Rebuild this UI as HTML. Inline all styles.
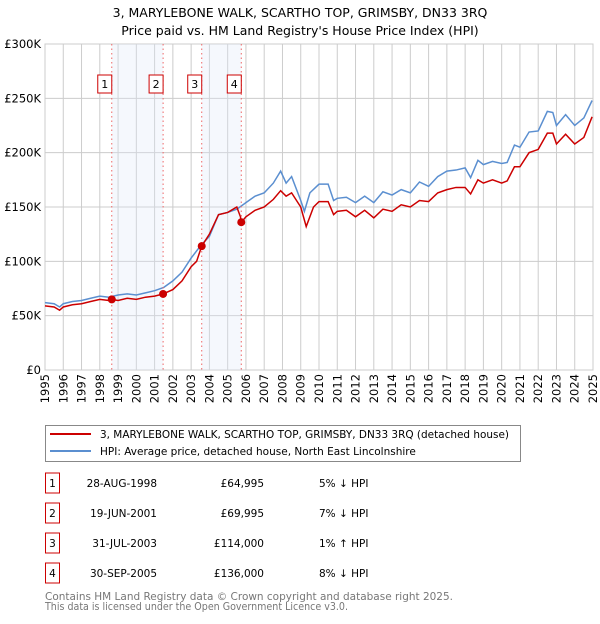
<!DOCTYPE html>
<html><head><meta charset="utf-8"><style>
body{margin:0;background:#fff;font-family:"DejaVu Sans","Liberation Sans",sans-serif;}
svg text{font-family:"DejaVu Sans","Liberation Sans",sans-serif;}
</style></head><body>
<svg id="chart" width="600" height="620" xmlns="http://www.w3.org/2000/svg">
<text x="300" y="17" text-anchor="middle" font-size="12.5">3, MARYLEBONE WALK, SCARTHO TOP, GRIMSBY, DN33 3RQ</text>
<text x="300" y="35" text-anchor="middle" font-size="12.5">Price paid vs. HM Land Registry's House Price Index (HPI)</text>
<g id="grid"></g>
<g id="shade"></g>
<g id="axes"></g>
<g id="series"></g>
<g id="markers"></g>
<rect x="45.5" y="425.5" width="475" height="36" fill="#fff" stroke="#888"/>
<line x1="50" y1="434" x2="91" y2="434" stroke="#cc0000" stroke-width="2"/>
<text x="100" y="438" font-size="10.5" textLength="409" lengthAdjust="spacingAndGlyphs">3, MARYLEBONE WALK, SCARTHO TOP, GRIMSBY, DN33 3RQ (detached house)</text>
<line x1="50" y1="451" x2="91" y2="451" stroke="#5b8fd0" stroke-width="2"/>
<text x="100" y="455" font-size="10.5">HPI: Average price, detached house, North East Lincolnshire</text>
<g id="table"></g>
<text x="45" y="600" font-size="10.5" fill="#777" textLength="408" lengthAdjust="spacingAndGlyphs">Contains HM Land Registry data © Crown copyright and database right 2025.</text>
<text x="45" y="610" font-size="10.5" fill="#777" textLength="303" lengthAdjust="spacingAndGlyphs">This data is licensed under the Open Government Licence v3.0.</text>
</svg>
<script>
const hpiYears=[1995,1995.5,1995.8,1996,1996.5,1997,1997.5,1998,1998.5,1999,1999.5,2000,2000.5,2001,2001.5,2002,2002.5,2003,2003.5,2004,2004.5,2005,2005.5,2006,2006.5,2007,2007.5,2007.9,2008.2,2008.5,2009,2009.2,2009.5,2010,2010.5,2010.8,2011,2011.5,2012,2012.5,2013,2013.5,2014,2014.5,2015,2015.5,2016,2016.5,2017,2017.5,2018,2018.3,2018.7,2019,2019.5,2020,2020.3,2020.7,2021,2021.5,2022,2022.5,2022.8,2023,2023.5,2024,2024.5,2024.95];
const hpiValues=[62,61,58,61,63,64,66,68,67,69,70,69,71,73,76,82,90,103,114,123,143,145,148,154,160,163,172,183,172,178,156,146,163,171,171,156,158,159,154,160,154,164,161,166,163,173,169,178,183,184,186,177,193,189,192,190,191,207,205,219,220,238,237,225,235,225,232,248];
const propYears=[1995,1995.5,1995.8,1996,1996.5,1997,1997.5,1998,1998.5,1998.65,1999,1999.5,2000,2000.5,2001,2001.47,2002,2002.5,2003,2003.3,2003.58,2004,2004.5,2005,2005.5,2005.7,2005.75,2006,2006.5,2007,2007.5,2007.9,2008.2,2008.5,2009,2009.3,2009.7,2010,2010.5,2010.8,2011,2011.5,2012,2012.5,2013,2013.5,2014,2014.5,2015,2015.5,2016,2016.5,2017,2017.5,2018,2018.3,2018.7,2019,2019.5,2020,2020.3,2020.7,2021,2021.5,2022,2022.5,2022.8,2023,2023.5,2024,2024.5,2024.95];
const propValues=[59,58,55,58,60,61,63,65,64,65,64,66,65,67,68,70,74,82,95,100,114,125,143,145,150,141,136,141,147,150,157,165,160,163,150,132,150,155,155,143,146,147,141,147,140,148,146,152,150,156,155,163,166,168,168,162,175,172,175,172,174,187,187,200,203,218,218,208,217,208,214,233];
const saleLabels=["1","2","3","4"];
const saleYears=[1998.655,2001.465,2003.58,2005.745];
const saleValues=[64.995,69.995,114,136];
const saleDates=["28-AUG-1998","19-JUN-2001","31-JUL-2003","30-SEP-2005"];
const salePrices=["£64,995","£69,995","£114,000","£136,000"];
const saleDiffs=["5% ↓ HPI","7% ↓ HPI","1% ↑ HPI","8% ↓ HPI"];
const yTicks=[0,50,100,150,200,250,300];
const yTickLabels=["£0","£50K","£100K","£150K","£200K","£250K","£300K"];
const xTicks=[1995,1996,1997,1998,1999,2000,2001,2002,2003,2004,2005,2006,2007,2008,2009,2010,2011,2012,2013,2014,2015,2016,2017,2018,2019,2020,2021,2022,2023,2024,2025];

const L=45,R=593,T=44,B=370;
const x=y=>L+(y-1995)/30*(R-L);
const yv=v=>B-v/300*(B-T);
const NS="http://www.w3.org/2000/svg";
function mk(parent,tag,attrs){const e=document.createElementNS(NS,tag);for(const k in attrs)e.setAttribute(k,attrs[k]);parent.appendChild(e);return e;}
const grid=document.getElementById('grid'),axes=document.getElementById('axes'),shade=document.getElementById('shade');
mk(grid,'rect',{x:L,y:T,width:R-L,height:B-T,fill:'#fff',stroke:'#ccc'});
yTicks.forEach((t,i)=>{
  const l=mk(grid,'line',{x1:L,x2:R,y1:yv(t),y2:yv(t),stroke:'#ccc'});
  
  
  const tx=mk(axes,'text',{x:L-4,y:yv(t)+4,'text-anchor':'end','font-size':'11.5'});
  tx.textContent=yTickLabels[i];
  
  
});
xTicks.forEach(t=>{
  const l=mk(grid,'line',{x1:x(t),x2:x(t),y1:T,y2:B,stroke:'#ccc'});
  
  
  const tx=mk(axes,'text',{transform:`translate(${x(t)+4},${B+4}) rotate(-90)`,'text-anchor':'end','font-size':'11.5'});
  tx.textContent=t;
  
  
});
[[0,1],[2,3]].forEach(p=>{
  const r=mk(shade,'rect',{x:x(saleYears[p[0]]),y:T,width:x(saleYears[p[1]])-x(saleYears[p[0]]),height:B-T,fill:'#dfe8fa','fill-opacity':'0.3'});
  
  
});
const series=document.getElementById('series');
const hp=mk(series,'polyline',{points:hpiYears.map((y,i)=>x(y)+','+yv(hpiValues[i])).join(' '),fill:'none',stroke:'#5b8fd0','stroke-width':'1.5'});


const pp=mk(series,'polyline',{points:propYears.map((y,i)=>x(y)+','+yv(propValues[i])).join(' '),fill:'none',stroke:'#cc0000','stroke-width':'1.5'});


const mg=document.getElementById('markers'),tb=document.getElementById('table');
saleYears.forEach((s,i)=>{
  const vl=mk(mg,'line',{x1:x(s),x2:x(s),y1:T,y2:B,stroke:'#e66','stroke-dasharray':'1.5,3'});
  
  
  const bx=mk(mg,'rect',{x:x(s)-14,y:75,width:14,height:18,fill:'#fff',stroke:'#cc0000'});
  
  
  const bt=mk(mg,'text',{x:x(s)-7,y:88,'text-anchor':'middle','font-size':'11'});
  bt.textContent=saleLabels[i];
  
  
  const c=mk(mg,'circle',{cx:x(s),cy:yv(saleValues[i]),r:4,fill:'#cc0000'});
  
  
  const ry=483+i*30;
  const tr=mk(tb,'rect',{x:45.5,y:ry-10,width:14,height:20,fill:'#fff',stroke:'#cc0000'});
  
  
  const cells=[[52.5,'middle',saleLabels[i]],[157,'end',saleDates[i]],[264,'end',salePrices[i]],[319,'start',saleDiffs[i]]];
  cells.forEach(cv=>{
    const t=mk(tb,'text',{x:cv[0],y:ry+4,'text-anchor':cv[1],'font-size':'10.5'});
    t.textContent=cv[2];
    
    
  });
});
</script>
</body></html>
